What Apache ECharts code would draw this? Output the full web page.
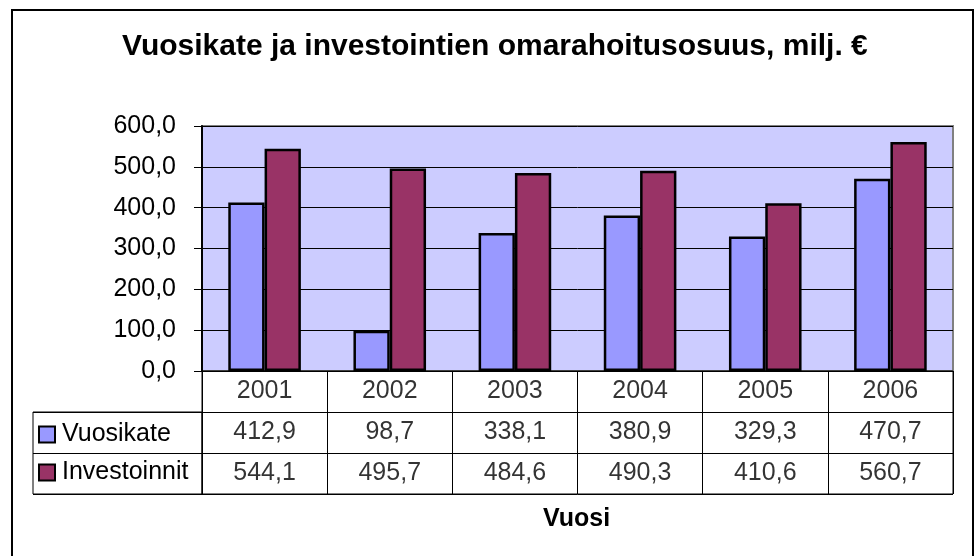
<!DOCTYPE html>
<html>
<head>
<meta charset="utf-8">
<script src="https://cdn.jsdelivr.net/npm/echarts@6/dist/echarts.min.js"></script>
<style>
  html, body { margin: 0; padding: 0; background: #fff; }
  #chart { width: 977px; height: 556px; }
</style>
</head>
<body>
<div id="chart"></div>
<script>
  // data
  const years = ['2001', '2002', '2003', '2004', '2005', '2006']
  const vuosikate = [412.9, 98.7, 338.1, 380.9, 329.3, 470.7]
  const investoinnit = [544.1, 495.7, 484.6, 490.3, 410.6, 560.7]
  const rowNames = ['', 'Vuosikate', 'Investoinnit']

  const font = "'Liberation Sans', Arial, sans-serif"
  const fi = v => v.toFixed(1).replace('.', ',')

  // table cells: [column, row, text]
  const tableCells = []
  years.forEach((y, i) => {
    tableCells.push([i, 0, y])
    tableCells.push([i, 1, fi(vuosikate[i])])
    tableCells.push([i, 2, fi(investoinnit[i])])
  })

  const chart = echarts.init(document.getElementById('chart'))
  chart.setOption({
    animation: false,
    textStyle: { fontFamily: font, color: '#000' },
    title: [
      {
        text: 'Vuosikate ja investointien omarahoitusosuus, milj. €',
        left: 117,
        top: 27,
        textStyle: { fontFamily: font, fontSize: 30, fontWeight: 'bold', color: '#000' }
      },
      {
        text: 'Vuosi',
        left: 538,
        top: 502,
        textStyle: { fontFamily: font, fontSize: 25, fontWeight: 'bold', color: '#000' }
      }
    ],
    legend: {
      orient: 'vertical',
      left: 38,
      top: 422,
      padding: 0,
      itemWidth: 16,
      itemHeight: 16,
      itemGap: 13,
      icon: 'rect',
      textStyle: { fontFamily: font, fontSize: 25, color: '#000', padding: [0, 0, 0, 2] },
      data: ['Vuosikate', 'Investoinnit']
    },
    graphic: [
      {
        type: 'rect',
        shape: { x: 12, y: 10, width: 961, height: 560 },
        style: { fill: 'none', stroke: '#000', lineWidth: 2 },
        z: -10
      }
    ],
    grid: [
      { left: 202, right: 24, top: 126, height: 245, show: true, backgroundColor: '#CCCCFF', borderColor: '#808080', borderWidth: 2 },
      { left: 202, right: 24, top: 371, height: 123, show: true, borderColor: '#000', borderWidth: 1 },
      { left: 33, width: 169, top: 412, height: 82, show: true, borderColor: '#000', borderWidth: 1 }
    ],
    xAxis: [
      {
        gridIndex: 0, type: 'category', data: years,
        axisLine: { lineStyle: { color: '#000', width: 1 } },
        axisTick: { show: false }, axisLabel: { show: false }
      },
      {
        gridIndex: 1, type: 'category', data: years, position: 'top',
        axisLine: { show: false }, axisTick: { show: false }, axisLabel: { show: false },
        splitLine: { show: true, lineStyle: { color: '#000', width: 1 } }
      },
      {
        gridIndex: 2, type: 'value', show: false
      }
    ],
    yAxis: [
      {
        gridIndex: 0, type: 'value', min: 0, max: 600, interval: 100,
        axisLine: { show: true, lineStyle: { color: '#000', width: 2 } },
        axisTick: { show: true, length: 8, lineStyle: { color: '#000' } },
        axisLabel: { fontFamily: font, fontSize: 25, color: '#000', margin: 26, formatter: v => fi(v) },
        splitLine: { lineStyle: { color: '#000', width: 1 } }
      },
      {
        gridIndex: 1, type: 'category', data: rowNames, inverse: true,
        axisLine: { show: false }, axisTick: { show: false }, axisLabel: { show: false },
        splitLine: { show: true, lineStyle: { color: '#000', width: 1 } }
      },
      {
        gridIndex: 2, type: 'category', data: rowNames.slice(1), inverse: true,
        axisLine: { show: false }, axisTick: { show: false }, axisLabel: { show: false },
        splitLine: { show: true, lineStyle: { color: '#000', width: 1 } }
      }
    ],
    series: [
      {
        name: 'Vuosikate', type: 'bar', xAxisIndex: 0, yAxisIndex: 0,
        data: vuosikate, barGap: '0%', barCategoryGap: '42%',
        itemStyle: { color: '#9999FF', borderColor: '#000', borderWidth: 2.5 }
      },
      {
        name: 'Investoinnit', type: 'bar', xAxisIndex: 0, yAxisIndex: 0,
        data: investoinnit, barGap: '0%', barCategoryGap: '42%',
        itemStyle: { color: '#993366', borderColor: '#000', borderWidth: 2.5 }
      },
      {
        type: 'scatter', xAxisIndex: 1, yAxisIndex: 1,
        symbolSize: 0, silent: true,
        data: tableCells,
        label: {
          show: true, position: 'inside',
          fontFamily: font, fontSize: 25, color: '#000',
          formatter: p => p.value[2]
        }
      }
    ]
  })
</script>
</body>
</html>
